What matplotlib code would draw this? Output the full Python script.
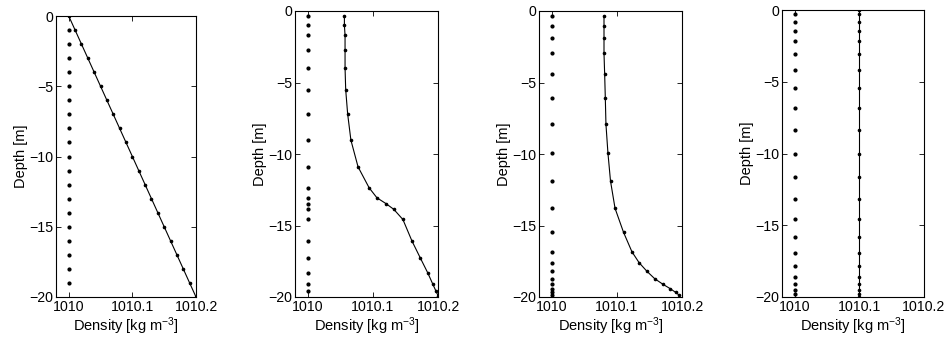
import numpy as np
import matplotlib.pyplot as plt

plt.rcParams['font.family'] = ['Liberation Sans', 'DejaVu Sans']
plt.rcParams['mathtext.fontset'] = 'custom'
plt.rcParams['mathtext.rm'] = 'Liberation Sans'
plt.rcParams['mathtext.default'] = 'regular'

# panel 1: uniform grid, linear profile
depth1 = [0, -1, -2, -3, -4, -5, -6, -7, -8, -9, -10, -11, -12, -13, -14, -15,
          -16, -17, -18, -19, -20]
rho1 = [1010.0, 1010.01, 1010.02, 1010.03, 1010.04, 1010.05, 1010.06, 1010.07,
        1010.08, 1010.09, 1010.10, 1010.11, 1010.12, 1010.13, 1010.14, 1010.15,
        1010.16, 1010.17, 1010.18, 1010.19, 1010.20]
grid1 = [-1, -2, -3, -4, -5, -6, -7, -8, -9, -10, -11, -12, -13, -14, -15, -16,
         -17, -18, -19]

# panel 2
depth2 = [-0.37, -1.0, -1.71, -2.73, -3.98, -5.51, -7.2, -9.03, -10.9, -12.36,
          -13.06, -13.47, -13.87, -14.58, -16.09, -17.29, -18.29, -19.1, -19.6, -19.9]
rho2 = [1010.056, 1010.056, 1010.057, 1010.057, 1010.057, 1010.058, 1010.061,
        1010.066, 1010.077, 1010.094, 1010.106, 1010.120, 1010.132, 1010.146,
        1010.160, 1010.173, 1010.184, 1010.192, 1010.197, 1010.2]

# panel 3
depth3 = [-0.37, -1.05, -1.9, -2.97, -4.39, -6.06, -7.92, -9.9, -11.89, -13.8,
          -15.47, -16.84, -17.6, -18.2, -18.72, -19.12, -19.42, -19.67, -19.88]
rho3 = [1010.080, 1010.080, 1010.080, 1010.080, 1010.081, 1010.082, 1010.083,
        1010.086, 1010.090, 1010.097, 1010.110, 1010.123, 1010.134, 1010.146,
        1010.158, 1010.171, 1010.182, 1010.190, 1010.196]

# panel 4
depth4 = [0, -0.3, -0.83, -1.43, -2.17, -3.05, -4.16, -5.45, -6.86, -8.36, -10.0,
          -11.62, -13.16, -14.57, -15.84, -16.93, -17.85, -18.59, -19.12, -19.54,
          -19.82, -20]
rho4 = [1010.1] * len(depth4)

profiles = [
    (depth1, rho1, grid1),
    (depth2, rho2, depth2[:-1]),
    (depth3, rho3, depth3),
    (depth4, rho4, depth4[1:-1]),
]

# axes boxes in pixels: left, right, top, bottom
boxes = [(56, 196, 16, 297), (295, 438, 11, 297), (539, 682, 11, 297), (782, 924, 10, 297)]

W, H = 946, 341
fig = plt.figure(figsize=(W / 100, H / 100), dpi=100)

for (d, r, g), (l, rgt, t, b) in zip(profiles, boxes):
    ax = fig.add_axes([l / W, 1 - b / H, (rgt - l) / W, (b - t) / H])
    ax.plot(r, d, '-', color='black', lw=0.8, marker='.', ms=3.2)
    ax.plot([1010] * len(g), g, '.', color='black', ms=4)
    ax.set_xlim(1009.98, 1010.2)
    ax.set_ylim(-20, 0)
    ax.set_xticks([1010, 1010.1, 1010.2])
    ax.set_xticklabels(['1010', '1010.1', '1010.2'])
    ax.set_yticks([0, -5, -10, -15, -20])
    ax.set_yticklabels(['0', '\u22125', '\u221210', '\u221215', '\u221220'])
    ax.tick_params(direction='in', length=3.5, width=0.6, labelsize=10.2, pad=2,
                   top=True, right=True)
    for s in ax.spines.values():
        s.set_linewidth(0.8)
    ax.set_xlabel('Density [kg m$^{\u22123}$]', fontsize=10.5, labelpad=1)
    ax.set_ylabel('Depth [m]', fontsize=10.5, labelpad=1)

fig.savefig('out.png', dpi=100)
